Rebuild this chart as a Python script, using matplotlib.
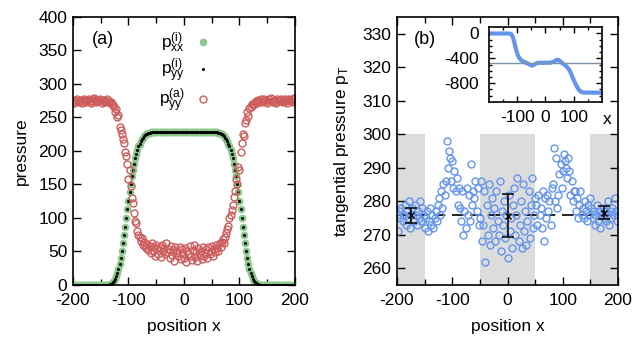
import numpy as np
import matplotlib
matplotlib.use('Agg')
import matplotlib.pyplot as plt

plt.rcParams['font.family'] = ['Liberation Sans', 'DejaVu Sans']
plt.rcParams['mathtext.fontset'] = 'custom'
plt.rcParams['mathtext.rm'] = 'Liberation Sans'
plt.rcParams['mathtext.it'] = 'Liberation Sans'
plt.rcParams['axes.unicode_minus'] = False
plt.rcParams['font.size'] = 12.5

# ---- panel (a) data, positions x = -200..200 step 2
pos = np.arange(-200, 201, 2)

# ideal-gas profile: x = -200 .. -56 (73 values), plateau -54 .. 54 (55 values), mirrored edge
p_ideal_left = [0]*30 + [0, 0, 0, 1, 1.5, 2.5, 4, 6, 9, 13, 18, 24, 32, 41, 51, 62, 74, 87, 100,
                         113, 126, 139, 151, 162, 172, 181, 189, 196, 202, 207, 211, 215, 218,
                         220, 222, 224, 225, 226, 227, 227, 228, 228, 228]
p_ideal_mid = [228, 228, 229, 228, 228, 228, 229, 228, 228, 228, 229, 228, 228, 228, 229, 228, 228,
               228, 229, 228, 228, 228, 229, 228, 228, 228, 229, 228, 228, 228, 229, 228, 228, 228,
               229, 228, 228, 228, 229, 228, 228, 228, 229, 228, 228, 228, 229, 228, 228, 228, 229,
               228, 228, 228, 228]
pyy_i = p_ideal_left + p_ideal_mid + p_ideal_left[::-1]
pxx_i = list(pyy_i)

pyy_a = [275, 271, 276, 274, 277, 273, 275, 276, 272, 274, 277, 275, 273, 276, 278, 274, 272, 275,
         277, 279, 276, 273, 275, 274, 278, 276, 272, 274, 276, 273, 275, 277, 274, 271, 273, 270,
         268, 265,
         258, 262, 250, 254, 236, 232, 226, 218, 212, 198, 192, 180, 158, 172, 148, 130, 122, 108,
         96, 92, 80, 74, 72, 66, 70, 60, 64, 58,
         55, 61, 52, 58, 48, 63, 50, 56, 44, 59, 53, 47, 57, 42, 60, 51, 55, 46, 62, 49, 54, 40,
         58, 45, 52, 36, 56, 48, 50, 43, 57, 39, 53, 46, 41, 55, 34, 50, 47, 58, 44, 38, 52, 60,
         42, 49, 36, 55, 45, 51, 39, 57, 43, 48, 53, 41, 56, 46, 50, 58, 44, 53, 49, 60, 55, 51,
         62, 57, 64,
         68, 62, 72, 78, 84, 88, 100, 104, 112, 120, 132, 140, 158, 150, 176, 172, 198, 212, 226,
         222, 242, 246, 258, 252, 264, 266, 270, 268,
         270, 273, 275, 272, 276, 274, 277, 273, 275, 278, 274, 276, 272, 275, 277, 279, 274, 273,
         276, 275, 272, 277, 275, 274, 278, 276, 273, 275, 277, 274, 272, 276, 278, 275, 273, 277,
         279, 275]

# ---- panel (b) data
p_T = [276, 271, 277, 275, 278, 274, 276, 279, 273, 277, 275, 280, 272, 276, 278, 274, 279, 276,
       273, 277, 275, 280, 274, 278, 276,
       272, 275, 277, 271, 274, 278, 273, 276, 272, 275,
       277, 274, 279, 281, 276, 283, 278, 285, 282, 286, 298,
       290, 295, 293, 286, 292, 284, 289, 283, 287, 279,
       284, 278, 274, 283, 270, 277, 272, 284, 276, 282, 274, 291, 279, 283,
       281, 286, 277, 284, 273,
       275, 286, 268, 273, 283, 262, 279, 270, 285, 267, 276, 281, 272, 278, 268, 283, 274, 270,
       286, 265, 277, 273, 280, 269, 276, 263, 282, 271, 275, 266, 279, 284, 270, 276, 287, 268,
       273, 280, 266, 285, 271, 277, 267, 274, 283, 269, 279, 287, 272, 276, 281,
       279, 273, 282, 276, 278, 272, 283, 268, 281, 275, 282, 277, 280, 273, 284,
       285, 296, 280, 293, 278, 282, 288, 291, 284, 289, 294, 292, 290, 287, 293, 289, 282, 286,
       280, 283,
       283, 277, 281, 275, 279, 283, 276, 278, 275, 280, 277, 274, 279, 276, 281,
       278, 275, 277, 273, 276, 279, 274, 277, 272, 276, 278, 275, 277, 274, 276, 280, 273, 277,
       275, 278, 276, 281, 277, 274, 276]
pT_mean = 276
bands = [(-200, -150), (-50, 50), (150, 200)]
band_top = 300
err_x = [-175, 0, 175]
err_y = [275.8, 275.7, 276.6]
err_e = [2.3, 6.5, 2.0]

# inset: integrated quantity
inset_x = [-200, -130, -122, -116, -110, -104, -98, -92, -86, -78, -70, -60, -50, -44, -38, -30,
           -20, -10, 0, 10, 20, 30, 38, 44, 50, 58, 66, 74, 82, 90, 98, 106, 114, 120, 128, 136, 200]
inset_F = [0, 0, -10, -50, -150, -260, -350, -400, -430, -455, -470, -490, -515, -515, -495, -478,
           -470, -475, -470, -472, -468, -455, -428, -425, -440, -475, -500, -530, -570, -640, -730,
           -810, -880, -920, -945, -952, -955]
inset_ref = -472

fig = plt.figure(figsize=(6.33, 3.37), dpi=100)
axa = fig.add_axes([0.1153, 0.1543, 0.3507, 0.7953])
axb = fig.add_axes([0.6272, 0.1543, 0.3491, 0.7953])
axi = fig.add_axes([0.7725, 0.6982, 0.1785, 0.2208])

def style(ax, ml=6, mnl=4):
    ax.tick_params(which='both', direction='in', top=True, right=True, width=1.0)
    ax.tick_params(which='major', length=ml)
    ax.tick_params(which='minor', length=mnl)
    ax.tick_params(axis='x', pad=6)
    ax.tick_params(axis='y', pad=4)
    for s in ax.spines.values():
        s.set_linewidth(1.2)

# panel (a)
axa.plot(pos, pxx_i, 'o', color='#8cc78c', ms=5.5, mec='none', label=r'$\mathrm{p}_\mathrm{xx}^\mathrm{(i)}$')
axa.plot(pos, pyy_i, 'o', color='black', ms=2.2, mec='none', label=r'$\mathrm{p}_\mathrm{yy}^\mathrm{(i)}$')
axa.plot(pos, pyy_a, 'o', mfc='none', mec='#cd5c5c', ms=5, mew=1.0, label=r'$\mathrm{p}_\mathrm{yy}^\mathrm{(a)}$')
axa.set_xlim(-200, 200)
axa.set_ylim(0, 400)
axa.set_xticks([-200, -100, 0, 100, 200])
axa.set_xticks([-150, -50, 50, 150], minor=True)
axa.set_yticks(np.arange(0, 401, 50))
style(axa)
axa.set_xlabel('position x', labelpad=8)
axa.set_ylabel('pressure', labelpad=7)
axa.text(0.085, 0.915, '(a)', transform=axa.transAxes, fontsize=13, va='center')
axa.legend(loc='upper right', bbox_to_anchor=(0.67, 0.995), markerfirst=False, frameon=False,
           handlelength=0.8, handletextpad=0.6, labelspacing=0.1, fontsize=12.5, borderpad=0.2)

# panel (b)
for x0, x1 in bands:
    axb.fill_between([x0, x1], 255, band_top, color='#dcdcdc', lw=0, zorder=0)
axb.axhline(pT_mean, color='black', lw=1.2, ls=(0, (7, 4)), zorder=1)
axb.plot(pos, p_T, 'o', mfc='none', mec='#6495ed', ms=5, mew=1.0, zorder=2)
axb.errorbar(err_x, err_y, yerr=err_e, fmt='x', color='black', ms=4, capsize=4, lw=1.1,
             capthick=1.1, zorder=3)
axb.set_xlim(-200, 200)
axb.set_ylim(255, 335)
axb.set_xticks([-200, -100, 0, 100, 200])
axb.set_xticks([-150, -50, 50, 150], minor=True)
axb.set_yticks(np.arange(260, 331, 10))
style(axb)
axb.set_xlabel('position x', labelpad=8)
axb.set_ylabel(r'tangential pressure $\mathrm{p}_\mathrm{T}$', labelpad=8)
axb.text(0.075, 0.915, '(b)', transform=axb.transAxes, fontsize=13, va='center')

# inset
axi.plot(inset_x, inset_F, color='#6495ed', lw=3, solid_capstyle='butt')
axi.axhline(inset_ref, color='#7f93a8', lw=1.0)
axi.set_xlim(-200, 200)
axi.set_ylim(-1100, 100)
axi.set_xticks([-100, 0, 100])
axi.set_xticks(np.arange(-150, 200, 50), minor=True)
axi.set_yticks([-800, -400, 0])
axi.set_yticks(np.arange(-1000, 100, 100), minor=True)
style(axi, ml=4, mnl=2.5)
axi.tick_params(axis='y', pad=7)
axi.text(1.05, -0.235, 'x', transform=axi.transAxes, ha='center', va='center')

fig.savefig('out.png', dpi=100)
